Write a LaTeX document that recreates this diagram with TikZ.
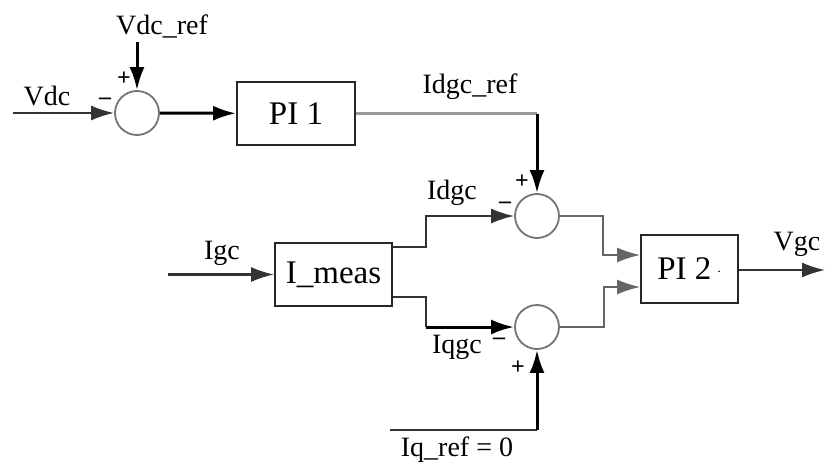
\documentclass[tikz,border=0pt]{standalone}
\usepackage{fontspec}
\setmainfont{Liberation Serif}
\usetikzlibrary{arrows.meta,calc}
\begin{document}
\begin{tikzpicture}[x=1pt,y=-1pt,
  blk/.style={draw=black!85,line width=1.8pt,minimum width=#1,inner sep=0pt,
    font=\fontsize{33}{36}\selectfont},
  sumnode/.style={draw=black!55,line width=1.8pt,circle,minimum size=44pt,inner sep=0pt},
  lbl/.style={inner sep=0pt,font=\fontsize{28}{30}\selectfont},
  sgn/.style={inner sep=0pt,font=\bfseries\fontsize{24}{26}\selectfont},
  thinline/.style={draw=black!80,line width=1.8pt},
  greyline/.style={draw=black!40,line width=2.2pt},
  thickline/.style={draw=black,line width=3pt},
  tip/.style={-{Latex[length=23pt,width=15pt]}},
]
\useasboundingbox (0,0) rectangle (825,466);

% blocks
\node[blk=118pt,minimum height=63pt] (pi1) at (296,113.5) {PI 1};
\node[blk=117pt,minimum height=63pt] (meas) at (333.5,274.5) {I\_meas};
\node[blk=97pt,minimum height=68pt] (pi2) at (689.5,269) {PI 2\,\raisebox{0.25ex}{\fontsize{14}{14}\selectfont·}};

% summing junctions
\node[sumnode] (s1) at (137,113) {};
\node[sumnode] (s2) at (537,216) {};
\node[sumnode] (s3) at (537,327) {};

% free ends
\coordinate (vdcin) at (13,113);
\coordinate (vrefin) at (137,42);
\coordinate (igcin) at (168,274.5);
\coordinate (iqin) at (390,430);
\coordinate (vgcout) at (825,270);

% DC-link voltage loop
\draw[thinline,line width=2.2pt,tip] (vdcin) -- (s1);
\draw[thickline,tip] (vrefin) -- (s1);
\draw[thickline,tip] (s1) -- (pi1);
\draw[greyline] (pi1) -- (s2 |- pi1);
\draw[thickline,tip] (s2 |- pi1) -- (s2);

% current measurement
\draw[thinline,line width=2.2pt,tip] (igcin) -- (meas);
\draw[thinline,tip] ([yshift=27.5pt]meas.east) -- ++(33,0) |- (s2.west);
\draw[thinline] ([yshift=-22.5pt]meas.east) -- ++(33,0) coordinate (qk) -- (qk |- s3);
\draw[thickline,tip] (qk |- s3) -- (s3.west);
\draw[thinline] (iqin) -- (s3 |- iqin);
\draw[thickline,tip] (s3 |- iqin) -- (s3);

% current controller
\draw[thinline,draw=black!60,tip] (s2.east) -- ++(43,0) |- ([yshift=14pt]pi2.west);
\draw[thinline,draw=black!60,tip] (s3.east) -- ++(44,0) |- ([yshift=-18pt]pi2.west);
\draw[thinline,tip] (pi2.east |- vgcout) -- (vgcout);

% labels
\node[lbl] (lvdc) at (47,96) {Vdc};
\node[lbl] (lvref) at (162,26) {Vdc\_ref};
\node[sgn] (p1) at (124,79) {+};
\node[sgn] (m1) at (105,101) {–};
\node[lbl] (lidref) at (470,87) {Idgc\_ref};
\node[lbl] (lid) at (452,193) {Idgc};
\node[sgn] (p2) at (522,182) {+};
\node[sgn] (m2) at (505,205) {–};
\node[lbl] (ligc) at (222,253) {Igc};
\node[lbl] (liq) at (457,347) {Iqgc};
\node[sgn] (m3) at (499,341) {–};
\node[sgn] (p3) at (518,368) {+};
\node[lbl] (liqref) at (457,450) {Iq\_ref = 0};
\node[lbl] (lvgc) at (797,244) {Vgc};
\end{tikzpicture}
\end{document}
